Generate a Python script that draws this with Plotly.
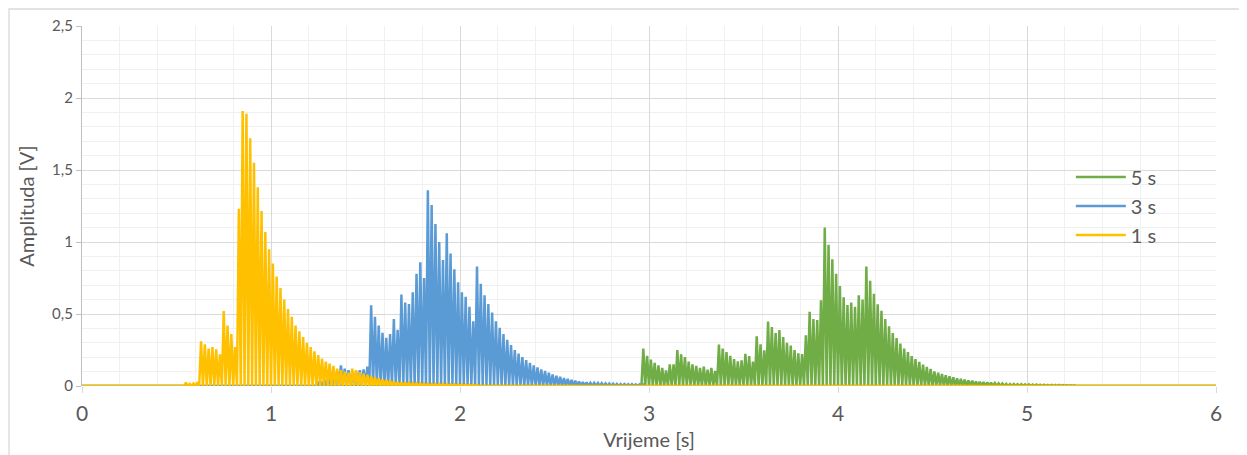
import plotly.graph_objects as go

# ---------------- data (peak amplitudes) ----------------
period = 0.02          # spacing between successive peaks [s]
t_end = 6.0

s1_name = "1 s"
s1_start = 0.55
s1_peaks = [0.023, 0.015, 0.017, 0.025,
            0.31, 0.29, 0.26, 0.27, 0.255, 0.22, 0.52, 0.42, 0.36, 0.27,
            1.23, 1.91, 1.89, 1.72, 1.55, 1.38, 1.215, 1.07, 0.95, 0.85,
            0.76, 0.68, 0.60, 0.535, 0.48, 0.42, 0.38, 0.34, 0.30, 0.27,
            0.24, 0.215, 0.19, 0.17, 0.155, 0.14, 0.12, 0.11, 0.10, 0.092,
            0.12, 0.11, 0.095, 0.085, 0.078, 0.069, 0.06, 0.053, 0.046, 0.042,
            0.037, 0.032, 0.028, 0.026, 0.023, 0.021, 0.019, 0.018, 0.017, 0.016,
            0.015, 0.014, 0.013, 0.013, 0.012, 0.012, 0.011, 0.011, 0.010, 0.010,
            0.009, 0.009, 0.008, 0.008]

s3_name = "3 s"
s3_start = 1.25
s3_peaks = [0.02, 0.03, 0.04, 0.05, 0.07, 0.10, 0.143, 0.12, 0.11, 0.10,
            0.10, 0.11, 0.115, 0.134,
            0.56, 0.48, 0.42, 0.37, 0.335, 0.36, 0.465, 0.39, 0.635, 0.58,
            0.57, 0.65, 0.78, 0.86, 0.75, 1.36, 1.257, 1.125, 1.00, 0.875,
            1.06, 0.92, 0.81, 0.72, 0.65, 0.62, 0.55, 0.45, 0.83, 0.71,
            0.63, 0.57, 0.51, 0.45, 0.405, 0.36, 0.32, 0.285, 0.25, 0.225,
            0.20, 0.18, 0.16, 0.143, 0.13, 0.116, 0.104, 0.092, 0.081, 0.072,
            0.065, 0.056, 0.049, 0.042, 0.037, 0.032, 0.028, 0.025, 0.022, 0.021,
            0.02, 0.019, 0.018, 0.017, 0.016, 0.015, 0.014, 0.013, 0.012, 0.012,
            0.011, 0.011, 0.010]

s5_name = "5 s"
s5_start = 2.97
s5_peaks = [0.26, 0.21, 0.183, 0.16, 0.143, 0.125, 0.109, 0.15, 0.15, 0.25,
            0.22, 0.20, 0.17, 0.15, 0.139, 0.125, 0.134, 0.113, 0.125, 0.104,
            0.287, 0.26, 0.236, 0.21, 0.1875, 0.171, 0.178, 0.224, 0.208, 0.169,
            0.345, 0.29, 0.248, 0.447, 0.41, 0.368, 0.389, 0.34, 0.30, 0.28,
            0.25, 0.227, 0.222, 0.352, 0.516, 0.465, 0.458, 0.595, 1.10, 0.98,
            0.88, 0.78, 0.695, 0.616, 0.5625, 0.58, 0.55, 0.63, 0.60, 0.83,
            0.73, 0.64, 0.567, 0.523, 0.465, 0.414, 0.368, 0.333, 0.294, 0.26,
            0.236, 0.208, 0.1875, 0.167, 0.148, 0.132, 0.118, 0.102, 0.092, 0.083,
            0.074, 0.067, 0.06, 0.053, 0.049, 0.044, 0.039, 0.037, 0.032, 0.03,
            0.028, 0.025, 0.023, 0.02, 0.018, 0.017, 0.015, 0.014, 0.013, 0.012,
            0.012, 0.011, 0.011, 0.010, 0.010, 0.009, 0.009, 0.008, 0.008, 0.007,
            0.007, 0.006, 0.006, 0.005, 0.005]

x_ticks = [0, 1, 2, 3, 4, 5, 6]
y_ticks = [0, 0.5, 1, 1.5, 2, 2.5]

colors = {"5 s": "#70AD47", "3 s": "#5B9BD5", "1 s": "#FFC000"}


def waveform(start, peaks):
    xs, ys = [0.0], [0.0]
    t = start
    for i, p in enumerate(peaks):
        t = start + i * period
        xs += [t - period / 2, t]
        ys += [0.0, p]
    xs += [t + period / 2, t_end]
    ys += [0.0, 0.0]
    return xs, ys


fig = go.Figure()
for name, start, peaks in [(s5_name, s5_start, s5_peaks),
                           (s3_name, s3_start, s3_peaks),
                           (s1_name, s1_start, s1_peaks)]:
    xs, ys = waveform(start, peaks)
    fig.add_trace(go.Scatter(x=xs, y=ys, mode="lines", name=name,
                             line=dict(color=colors[name], width=2.5)))

font_family = "Lato, 'Open Sans', sans-serif"
txt = "#595959"

fig.update_layout(
    width=1247, height=455,
    margin=dict(l=74, r=39, t=18, b=77, autoexpand=False),
    paper_bgcolor="white", plot_bgcolor="white",
    separators=",.",
    font=dict(family=font_family, color=txt),
    showlegend=True,
    legend=dict(x=0.872, y=0.635, xanchor="left", yanchor="top",
                font=dict(size=20, color=txt), bgcolor="rgba(0,0,0,0)",
                tracegroupgap=0, itemwidth=50),
    xaxis=dict(range=[0, 6], tickvals=x_ticks, showgrid=True, automargin=False,
               gridcolor="#d9d9d9", gridwidth=1.3,
               minor=dict(dtick=0.2, showgrid=True, gridcolor="#f0f0f0", gridwidth=1.3),
               ticks="outside", ticklen=6, tickcolor="#d9d9d9", tickwidth=1.3,
               ticklabelstandoff=3,
               zeroline=False, showline=False,
               tickfont=dict(size=21, color=txt),
               title=dict(text="Vrijeme [s]", font=dict(size=20, color=txt), standoff=8)),
    yaxis=dict(range=[0, 2.5], tickvals=y_ticks, showgrid=True, automargin=False,
               gridcolor="#d9d9d9", gridwidth=1.3,
               minor=dict(dtick=0.1, showgrid=True, gridcolor="#f0f0f0", gridwidth=1.3),
               ticks="outside", ticklen=5, tickcolor="#bfbfbf", tickwidth=1.3,
               showline=True, linecolor="#bfbfbf", linewidth=1.3,
               zeroline=False,
               tickfont=dict(size=15, color=txt),
               title=dict(text="Amplituda [V]", font=dict(size=20, color=txt), standoff=12)),
    shapes=[dict(type="rect", xref="paper", yref="paper",
                 x0=(9 - 82) / 1134, x1=1.05, y0=-0.3, y1=(386 - 9) / 360,
                 line=dict(color="#d9d9d9", width=1.3), fillcolor="rgba(0,0,0,0)",
                 layer="below")],
)

fig.write_html("out.html")
